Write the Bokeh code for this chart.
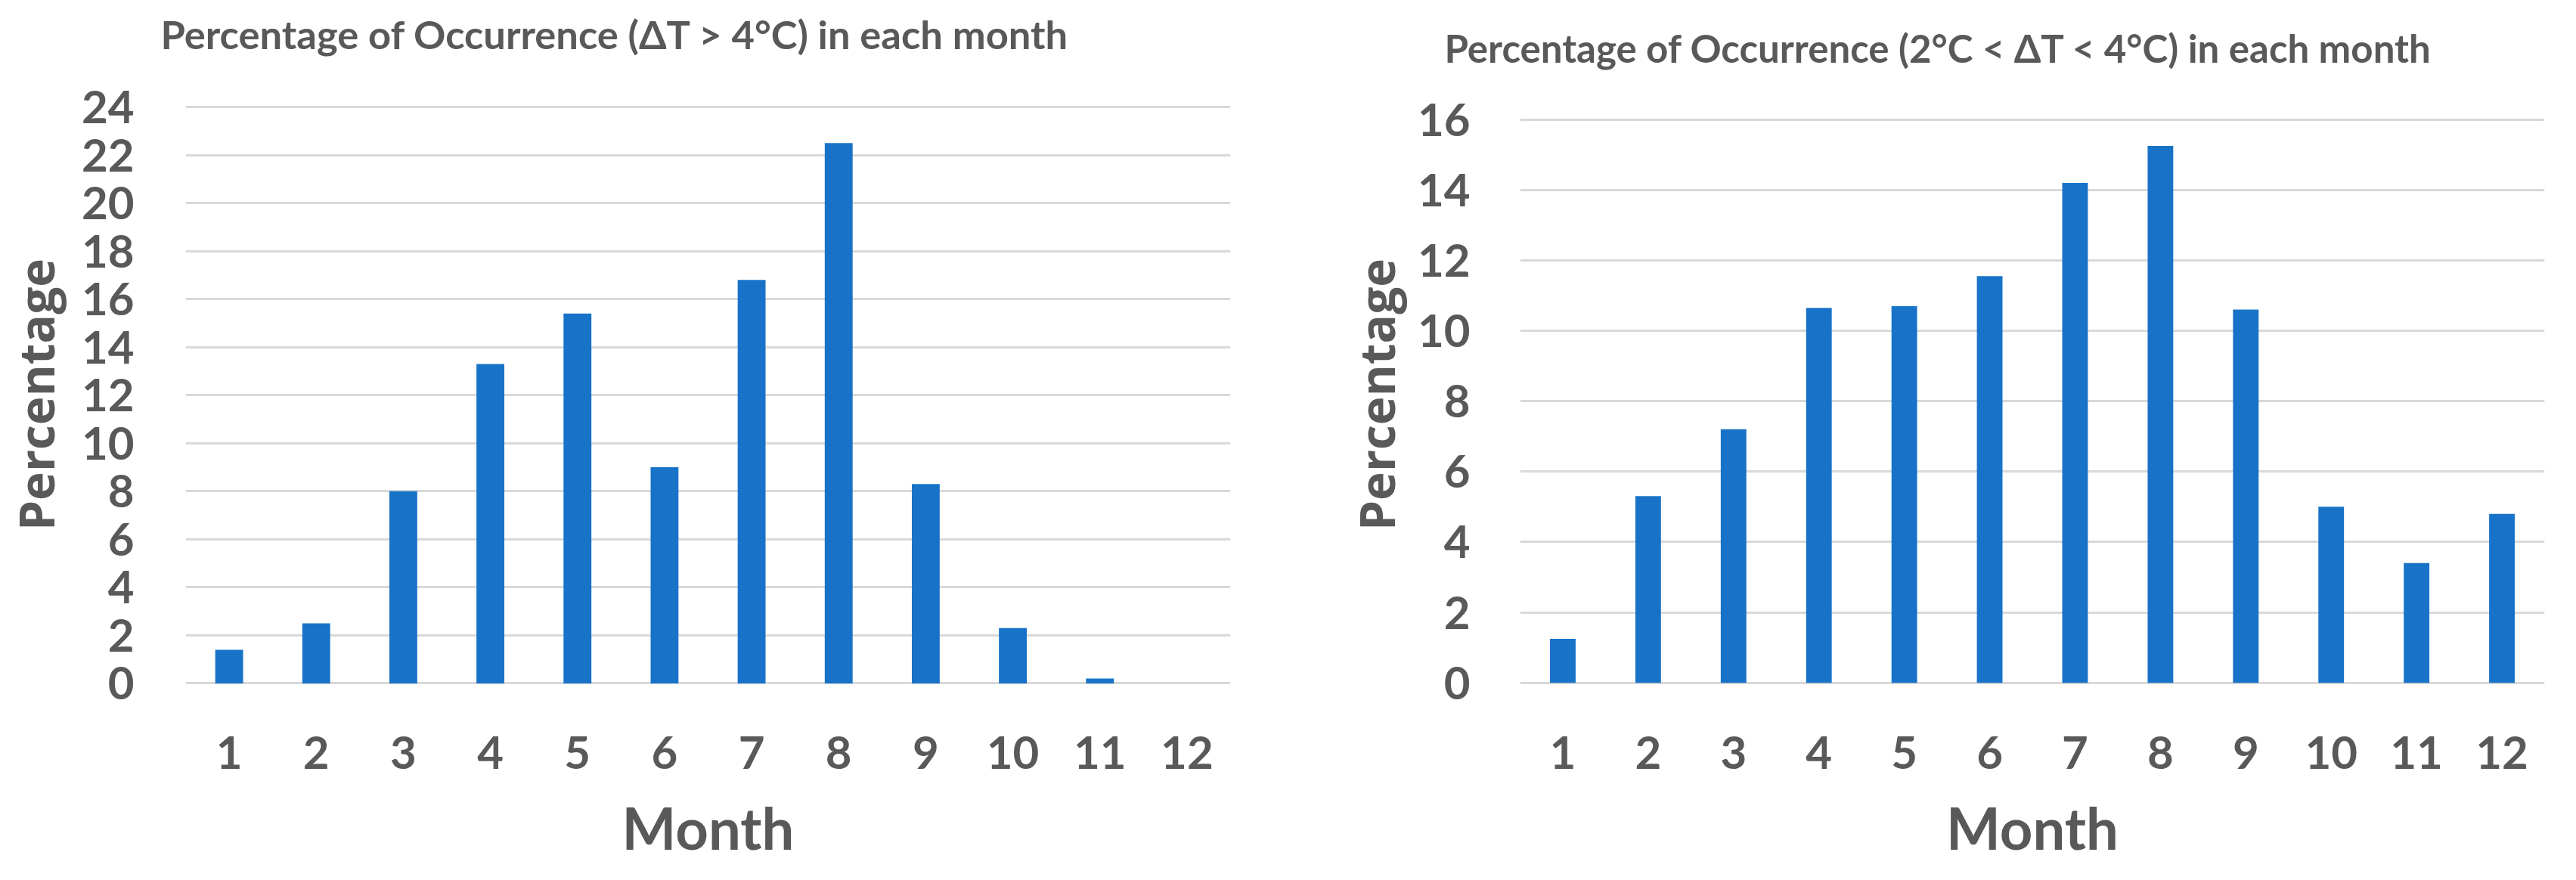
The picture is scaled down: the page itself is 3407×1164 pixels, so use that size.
from bokeh.plotting import figure
from bokeh.layouts import row
from bokeh.models import Range1d, FixedTicker, Title
from bokeh.embed import file_html
from bokeh.resources import INLINE

months = list(range(1, 13))
month_labels = [str(m) for m in months]
pct_gt4 = [1.4, 2.5, 8.0, 13.3, 15.4, 9.0, 16.8, 22.5, 8.3, 2.3, 0.2, 0.0]
pct_2to4 = [1.25, 5.3, 7.2, 10.65, 10.7, 11.55, 14.2, 15.25, 10.6, 5.0, 3.4, 4.8]
title_left = "Percentage of Occurrence (\u0394T > 4\u00b0C) in each month"
title_right = "Percentage of Occurrence (2\u00b0C < \u0394T < 4\u00b0C) in each month"
yticks_left = list(range(0, 25, 2))
yticks_right = list(range(0, 17, 2))
x_title = "Month"
y_title = "Percentage"

GRAY = "#595959"
BAR = "#1873C8"
H = 1146
TOP = 138
BOTTOM = H - 905


def make(title, vals, yrange, yticks, width, bl, br, bw, title_offset, title_size,
         spacer, ystand, ylab_stand):
    p = figure(width=width, height=H, x_range=Range1d(0.5, 12.5), y_range=Range1d(*yrange),
               output_backend="svg", toolbar_location=None,
               min_border_left=bl, min_border_right=br, min_border_top=TOP,
               min_border_bottom=BOTTOM, title=title)
    p.vbar(x=months, top=vals, width=bw, fill_color=BAR, line_color=None)
    p.outline_line_color = None

    p.title.align = "left"
    p.title.offset = title_offset
    p.title.standoff = 0
    p.title.text_font = "Lato"
    p.title.text_font_size = title_size
    p.title.text_font_style = "bold"
    p.title.text_color = GRAY

    # white (invisible) spacer between the frame and the title
    p.add_layout(Title(text=".", text_font_size="4px", text_color="white", standoff=spacer), "above")

    p.xgrid.grid_line_color = None
    p.ygrid.grid_line_color = "#D9D9D9"
    p.ygrid.grid_line_width = 3

    xa = p.below[0]
    ya = p.left[0]
    for ax in (xa, ya):
        ax.axis_line_color = None
        ax.major_tick_line_color = None
        ax.minor_tick_line_color = None
        ax.major_tick_out = 0
        ax.major_tick_in = 0
        ax.minor_tick_out = 0
        ax.minor_tick_in = 0
        ax.major_label_text_font = "Lato"
        ax.major_label_text_font_size = "60px"
        ax.major_label_text_font_style = "bold"
        ax.major_label_text_color = GRAY
        ax.axis_label_text_color = GRAY
        ax.axis_label_text_font_style = "bold"

    xa.ticker = FixedTicker(ticks=months)
    xa.major_label_overrides = {m: s for m, s in zip(months, month_labels)}
    xa.major_label_standoff = 68
    xa.axis_label = x_title
    xa.axis_label_text_font = "Lato"
    xa.axis_label_text_font_size = "76px"
    xa.axis_label_standoff = 29

    ya.ticker = FixedTicker(ticks=yticks)
    ya.major_label_standoff = ystand
    ya.axis_label = y_title
    ya.axis_label_text_font = "Open Sans"
    ya.axis_label_text_font_size = "64px"
    ya.axis_label_standoff = ylab_stand
    return p


p1 = make(title_left, pct_gt4, (-0.05, 24.1), yticks_left, 1700, 242, 73, 0.32,
          -33, "52.5px", 58, 68, 14)
p2 = make(title_right, pct_2to4, (-0.05, 16.42), yticks_right, 1691, 310, 26, 0.30,
          -100, "51px", 40, 66, 8)

layout = row(p1, p2)
open("out.html", "w").write(file_html(layout, INLINE))
